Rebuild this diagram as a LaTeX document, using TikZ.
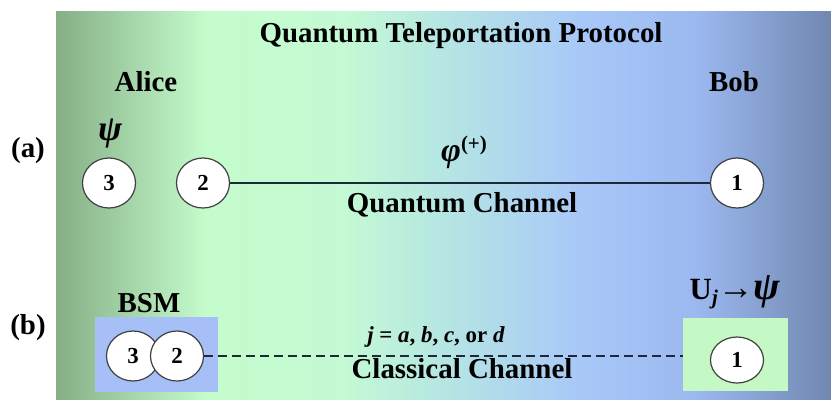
\documentclass[tikz,border=0pt]{standalone}
\usepackage{fontspec}
\setmainfont{Liberation Serif}
\usepackage{tikz}
\usetikzlibrary{shapes,arrows,positioning}
\usepackage{xcolor}

\definecolor{bgA}{HTML}{86AE86}
\definecolor{bgB}{HTML}{C4FCCC}
\definecolor{bgC}{HTML}{C4FAD4}
\definecolor{bgD}{HTML}{B8EAE0}
\definecolor{bgE}{HTML}{A8C8F8}
\definecolor{bgF}{HTML}{9CB8F0}
\definecolor{bgG}{HTML}{7088B0}
\definecolor{bsmblue}{HTML}{A6BFF6}
\definecolor{bobgreen}{HTML}{C4F8C4}
\definecolor{linedark}{HTML}{1E2838}

\newcommand{\bigbold}{\fontsize{29}{32}\selectfont\bfseries}

\begin{document}
\begin{tikzpicture}[x=1bp, y=-1bp]
\tikzstyle{lbl} = [font=\bigbold, inner sep=0pt, anchor=base]
\tikzstyle{qubit} = [ellipse, draw=black!75, fill=white, line width=1.2bp, minimum width=53bp, minimum height=50bp, inner sep=0pt, font=\fontsize{23}{23}\selectfont\bfseries]
\tikzstyle{panel} = [rectangle, inner sep=0pt]
\tikzstyle{quantum} = [line width=1.8bp, draw=linedark]
\tikzstyle{classic} = [line width=1.8bp, draw=linedark, dash pattern=on 9bp off 5bp]

\useasboundingbox (0,0) rectangle (831,399);

% background
\foreach \xa/\xb/\ca/\cb in {56/206/bgA/bgB, 206/343/bgB/bgC, 343/423/bgC/bgD, 423/580/bgD/bgE, 580/696/bgE/bgF, 696/831/bgF/bgG}
  \shade[left color=\ca, right color=\cb] (\xa,11) rectangle ({min(\xb+0.6,831)},399);

% titles
\node [lbl] (title) at (461,42) {Quantum Teleportation Protocol};
\node [lbl] (alice) at (146,91) {Alice};
\node [lbl] (bob) at (734,91) {Bob};
\node [lbl] (parta) at (28,157) {(a)};
\node [lbl] (partb) at (28,334) {(b)};

% (a) shared pair
\node [qubit] (qa3) at (109,183) {3};
\node [qubit] (qa2) at (203,183) {2};
\node [qubit] (qa1) at (737,183) {1};
\node [inner sep=0pt, anchor=base, font=\fontsize{36}{36}\selectfont\bfseries\itshape] (psia) at (110,140) {ψ};
\node [inner sep=0pt, anchor=base west, font=\fontsize{34}{34}\selectfont\bfseries\itshape] (phi) at (441,161) {φ\raisebox{11bp}{\fontsize{21}{21}\selectfont\upshape\bfseries(+)}};
\node [lbl] (qchan) at (462,212) {Quantum Channel};
\draw [quantum] (qa2) -- (qa1);

% (b) measurement and correction
\node [panel, fill=bsmblue, minimum width=123bp, minimum height=75bp] (bsmbox) at (156.5,354.5) {};
\node [panel, fill=bobgreen, minimum width=105bp, minimum height=73bp] (bobbox) at (735.5,354.5) {};
\node [lbl] (bsm) at (149,312) {BSM};
\node [qubit] (qb3) at (133,356) {3};
\node [qubit] (qb2) at (177,356) {2};
\node [qubit, minimum height=46bp] (qb1) at (737,360) {1};
\node [inner sep=0pt, anchor=base, font=\fontsize{23}{23}\selectfont\bfseries] (jval) at (436,342) {\textit{j} = \textit{a}, \textit{b}, \textit{c}, or \textit{d}};
\node [lbl] (cchan) at (462,378) {Classical Channel};
\node [inner sep=0pt, anchor=base, font=\fontsize{31}{31}\selectfont] (unitary) at (735,299) {\textbf{U}\raisebox{-5bp}{\fontsize{21}{21}\selectfont\bfseries\itshape j}{\fontsize{36}{36}\selectfont→}{\fontsize{40}{40}\selectfont\bfseries\itshape ψ}};
\draw [classic] (qb2.east) -- (qb2.east -| bobbox.west);
\end{tikzpicture}
\end{document}
